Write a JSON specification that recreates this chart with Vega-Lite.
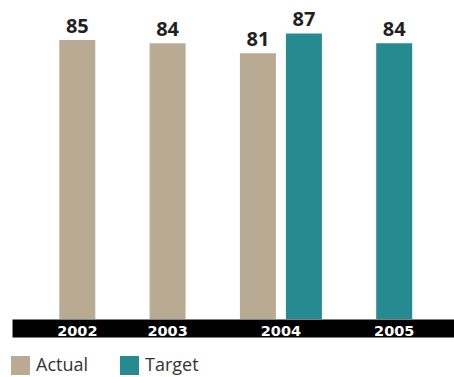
{
  "$schema": "https://vega.github.io/schema/vega-lite/v6.json",
  "width": 442,
  "height": 319,
  "autosize": {"type": "none"},
  "padding": {"left": 12, "top": 0, "right": 0, "bottom": 58},
  "background": "white",
  "config": {"view": {"stroke": null}},
  "data": {
    "values": [
      {"year": "2002", "series": "Actual", "value": 85},
      {"year": "2003", "series": "Actual", "value": 84},
      {"year": "2004", "series": "Actual", "value": 81},
      {"year": "2004", "series": "Target", "value": 87},
      {"year": "2005", "series": "Target", "value": 84}
    ]
  },
  "encoding": {
    "x": {
      "field": "year",
      "type": "nominal",
      "title": null,
      "scale": {"paddingInner": 0.0919, "paddingOuter": 0.4934, "align": 0.531}
    },
    "xOffset": {
      "field": "series",
      "type": "nominal",
      "scale": {"domain": ["Actual", "Target"], "paddingInner": 0.2174, "paddingOuter": 0}
    },
    "y": {
      "field": "value",
      "type": "quantitative",
      "scale": {"domain": [0, 97.2], "nice": false, "zero": true},
      "axis": null
    }
  },
  "layer": [
    {
      "mark": {"type": "bar"},
      "encoding": {
        "x": {
          "field": "year",
          "type": "nominal",
          "title": null,
          "axis": {
            "orient": "bottom",
            "offset": 9,
            "zindex": 0,
            "domain": true,
            "domainColor": "#000000",
            "domainWidth": 18,
            "ticks": false,
            "labels": false
          }
        },
        "color": {
          "field": "series",
          "type": "nominal",
          "scale": {"domain": ["Actual", "Target"], "range": ["#b9aa94", "#268b91"]},
          "legend": {
            "title": null,
            "orient": "none",
            "direction": "horizontal",
            "legendX": -1,
            "legendY": 356,
            "padding": 0,
            "symbolType": "square",
            "symbolSize": 361,
            "symbolStrokeWidth": 0,
            "symbolOpacity": 1,
            "labelFont": "Open Sans",
            "labelFontSize": 18,
            "labelColor": "#333333",
            "labelOffset": 6,
            "columnPadding": 31
          }
        }
      }
    },
    {
      "mark": {
        "type": "text",
        "dy": -7,
        "baseline": "alphabetic",
        "font": "Open Sans",
        "fontWeight": "bold",
        "fontSize": 20,
        "color": "#231f20"
      },
      "encoding": {
        "x": {
          "field": "year",
          "type": "nominal",
          "title": null,
          "axis": {
            "orient": "bottom",
            "offset": 9,
            "zindex": 1,
            "domain": false,
            "ticks": false,
            "labelAngle": 0,
            "labelPadding": 7,
            "labelBaseline": "alphabetic",
            "labelFont": "DejaVu Sans",
            "labelFontWeight": "bold",
            "labelFontSize": 14.5,
            "labelColor": "#ffffff",
            "labelOffset": {
              "condition": [
                {"test": "datum.value == '2002' || datum.value == '2003'", "value": -23},
                {"test": "datum.value == '2005'", "value": 23}
              ],
              "value": 0
            }
          }
        },
        "text": {"field": "value", "type": "quantitative"}
      }
    }
  ],
  "resolve": {"axis": {"x": "independent"}}
}
